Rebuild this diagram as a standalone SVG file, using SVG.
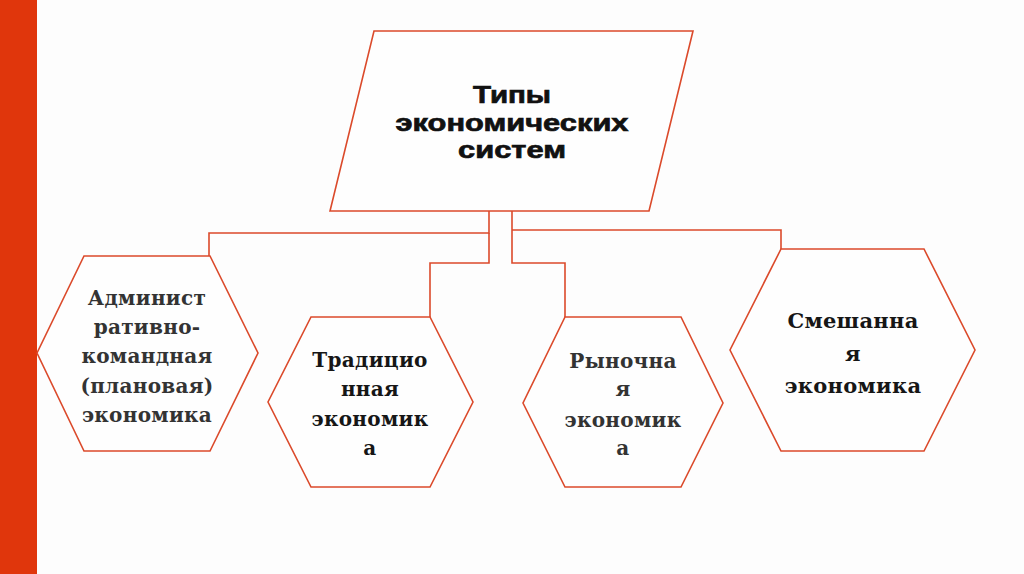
<svg xmlns="http://www.w3.org/2000/svg" width="1024" height="574" viewBox="0 0 1024 574">
<style>
.shape{fill:#fefefe;stroke:#db4a2b;stroke-width:1.6;stroke-linejoin:miter}
.conn{fill:none;stroke:#db4a2b;stroke-width:1.6}
.title{font-family:"Liberation Sans",Arial,sans-serif;font-weight:bold;font-size:24px;fill:#111;stroke:#111;stroke-width:0.7;text-anchor:middle}
.hx{font-family:"DejaVu Serif","Liberation Serif",serif;font-weight:bold;font-size:20px;text-anchor:middle;letter-spacing:0.3px}
.d1{fill:#333}
.d2{fill:#161616}
</style>
<rect width="1024" height="574" fill="#fdfdfd"/>
<rect x="0" y="0" width="37" height="574" fill="#e0360c"/>
<g id="connectors">
<polyline class="conn" points="489,211 489,233 209,233 209,256"/>
<polyline class="conn" points="489,233 489,263 430,263 430,317"/>
<polyline class="conn" points="512,211 512,263 565,263 565,317"/>
<polyline class="conn" points="512,230 781,230 781,249"/>
</g>
<g id="root">
<polygon class="shape" points="374,31 693,31 649,211 330,211"/>
<text class="title"><tspan x="512" y="103" textLength="78" lengthAdjust="spacingAndGlyphs">Типы</tspan><tspan x="512" y="131" textLength="233" lengthAdjust="spacingAndGlyphs">экономических</tspan><tspan x="512" y="158" textLength="108" lengthAdjust="spacingAndGlyphs">систем</tspan></text>
</g>
<g id="n1">
<polygon class="shape" points="84,256 210,256 258,353 210,451 84,451 37,353"/>
<text class="hx d1"><tspan x="147" y="305">Админист</tspan><tspan x="147" y="334">ративно-</tspan><tspan x="147" y="363">командная</tspan><tspan x="147" y="393">(плановая)</tspan><tspan x="147" y="422">экономика</tspan></text>
</g>
<g id="n2">
<polygon class="shape" points="311,317 430,317 473,402 430,487 311,487 268,402"/>
<text class="hx d2"><tspan x="370" y="367">Традицио</tspan><tspan x="370" y="396">нная</tspan><tspan x="370" y="426">экономик</tspan><tspan x="370" y="455">а</tspan></text>
</g>
<g id="n3">
<polygon class="shape" points="565,317 681,317 723,403 681,487 565,487 523,403"/>
<text class="hx d1"><tspan x="623" y="368">Рыночна</tspan><tspan x="623" y="396">я</tspan><tspan x="623" y="427">экономик</tspan><tspan x="623" y="455">а</tspan></text>
</g>
<g id="n4">
<polygon class="shape" points="781,249 924,249 975,350 924,451 781,451 730,350"/>
<text class="hx d2" style="font-size:21px"><tspan x="853" y="328">Смешанна</tspan><tspan x="853" y="361">я</tspan><tspan x="853" y="393">экономика</tspan></text>
</g>
</svg>
